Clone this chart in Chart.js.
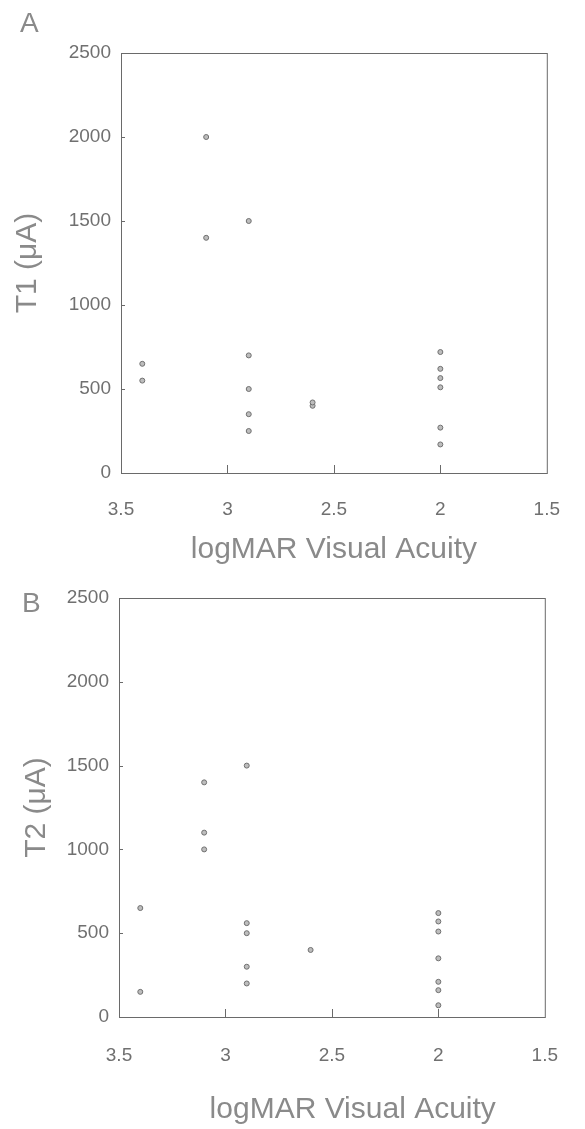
<!DOCTYPE html>
<html>
<head>
<meta charset="utf-8">
<script src="https://cdn.jsdelivr.net/npm/chart.js@4.4.1/dist/chart.umd.min.js"></script>
<style>
  body { margin: 0; background: #fff; }
  #wrap { position: relative; width: 585px; height: 1129px; }
  .panel { position: absolute; left: 0; width: 585px; }
  .letter { position: absolute; font: 28px/28px 'Liberation Sans', Arial, sans-serif; color: #8a8a8a; }
</style>
</head>
<body>
<div id="wrap">
  <div class="panel" style="top:0;height:565px"><canvas id="chartA" width="585" height="565"></canvas></div>
  <div class="panel" style="top:565px;height:564px"><canvas id="chartB" width="585" height="564"></canvas></div>
  <div class="letter" style="left:20px;top:9px">A</div>
  <div class="letter" style="left:22px;top:589px">B</div>
</div>
<script>
// logMAR visual acuity vs threshold current
const xTicks = [3.5, 3, 2.5, 2, 1.5];
const yTicks = [0, 500, 1000, 1500, 2000, 2500];

const t1Acuity = [3.4, 3.4, 3.1, 3.1, 2.9, 2.9, 2.9, 2.9, 2.9, 2.6, 2.6, 2, 2, 2, 2, 2, 2];
const t1Current = [650, 550, 2000, 1400, 1500, 700, 500, 350, 250, 400, 420, 720, 620, 565, 510, 270, 170];

const t2Acuity = [3.4, 3.4, 3.1, 3.1, 3.1, 2.9, 2.9, 2.9, 2.9, 2.9, 2.6, 2, 2, 2, 2, 2, 2, 2];
const t2Current = [650, 150, 1400, 1100, 1000, 1500, 560, 500, 300, 200, 400, 620, 570, 510, 350, 210, 160, 70];

const textFont = "'Liberation Sans', Arial, sans-serif";

// box around the plot plus the short inward tick marks
const framePlugin = {
  id: 'frame',
  afterDatasetsDraw(chart) {
    const { ctx, chartArea: a, scales: { x, y } } = chart;
    ctx.save();
    ctx.strokeStyle = '#6a6a6a';
    ctx.lineWidth = 1;
    ctx.strokeRect(a.left + 0.5, a.top + 0.5, a.width, a.height);
    ctx.beginPath();
    x.ticks.forEach(t => {
      if (t.value > 1.5 && t.value < 3.5) {
        const px = Math.round(x.getPixelForValue(t.value)) + 0.5;
        ctx.moveTo(px, a.bottom);
        ctx.lineTo(px, a.bottom - 8);
      }
    });
    y.ticks.forEach(t => {
      if (t.value > 0 && t.value < 2500) {
        const py = Math.round(y.getPixelForValue(t.value)) + 0.5;
        ctx.moveTo(a.left, py);
        ctx.lineTo(a.left + 4, py);
      }
    });
    ctx.stroke();
    ctx.restore();
  }
};

function makeChart(id, xs, ys, yTitle, xTitle, opt) {
  const points = xs.map((v, i) => ({ x: v, y: ys[i] }));
  return new Chart(document.getElementById(id), {
    type: 'scatter',
    data: {
      datasets: [{
        data: points,
        pointRadius: 2.5,
        pointBorderWidth: 1,
        borderColor: '#707070',
        backgroundColor: '#bdbdbd'
      }]
    },
    options: {
      responsive: false,
      animation: false,
      layout: { padding: { left: 0, top: opt.top, right: opt.right, bottom: 0 } },
      plugins: { legend: { display: false }, tooltip: { enabled: false } },
      scales: {
        x: {
          type: 'linear',
          reverse: true,
          min: 1.5,
          max: 3.5,
          afterBuildTicks: s => { s.ticks = xTicks.map(v => ({ value: v })); },
          afterFit: s => { s.height = opt.xHeight; },
          grid: { display: false, drawTicks: false },
          border: { display: false },
          ticks: {
            color: '#707070',
            padding: opt.xPad,
            maxRotation: 0,
            font: { family: textFont, size: 19 },
            callback: v => String(v)
          },
          title: {
            display: true,
            text: xTitle,
            color: '#8a8a8a',
            font: { family: textFont, size: 30, lineHeight: 1 },
            padding: { top: 0, bottom: opt.xTitlePad }
          }
        },
        y: {
          min: 0,
          max: 2500,
          afterBuildTicks: s => { s.ticks = yTicks.map(v => ({ value: v })); },
          afterFit: s => { s.width = opt.yWidth; },
          grid: { display: false, drawTicks: false },
          border: { display: false },
          ticks: {
            color: '#707070',
            padding: 10,
            font: { family: textFont, size: 19 },
            callback: v => String(v)
          },
          title: {
            display: true,
            text: yTitle,
            color: '#8a8a8a',
            font: { family: textFont, size: 30, lineHeight: 1 },
            padding: { top: opt.yTitlePad, bottom: 0 }
          }
        }
      }
    },
    plugins: [framePlugin]
  });
}

makeChart('chartA', t1Acuity, t1Current, 'T1 (\u03bcA)', 'logMAR Visual Acuity',
  { top: 53, right: 18, xHeight: 92, yWidth: 121, xPad: 25, xTitlePad: 0, yTitlePad: 13 });
makeChart('chartB', t2Acuity, t2Current, 'T2 (\u03bcA)', '     logMAR Visual Acuity',
  { top: 33, right: 25, xHeight: 112, yWidth: 119, xPad: 27, xTitlePad: 4, yTitlePad: 22 });
</script>
</body>
</html>
